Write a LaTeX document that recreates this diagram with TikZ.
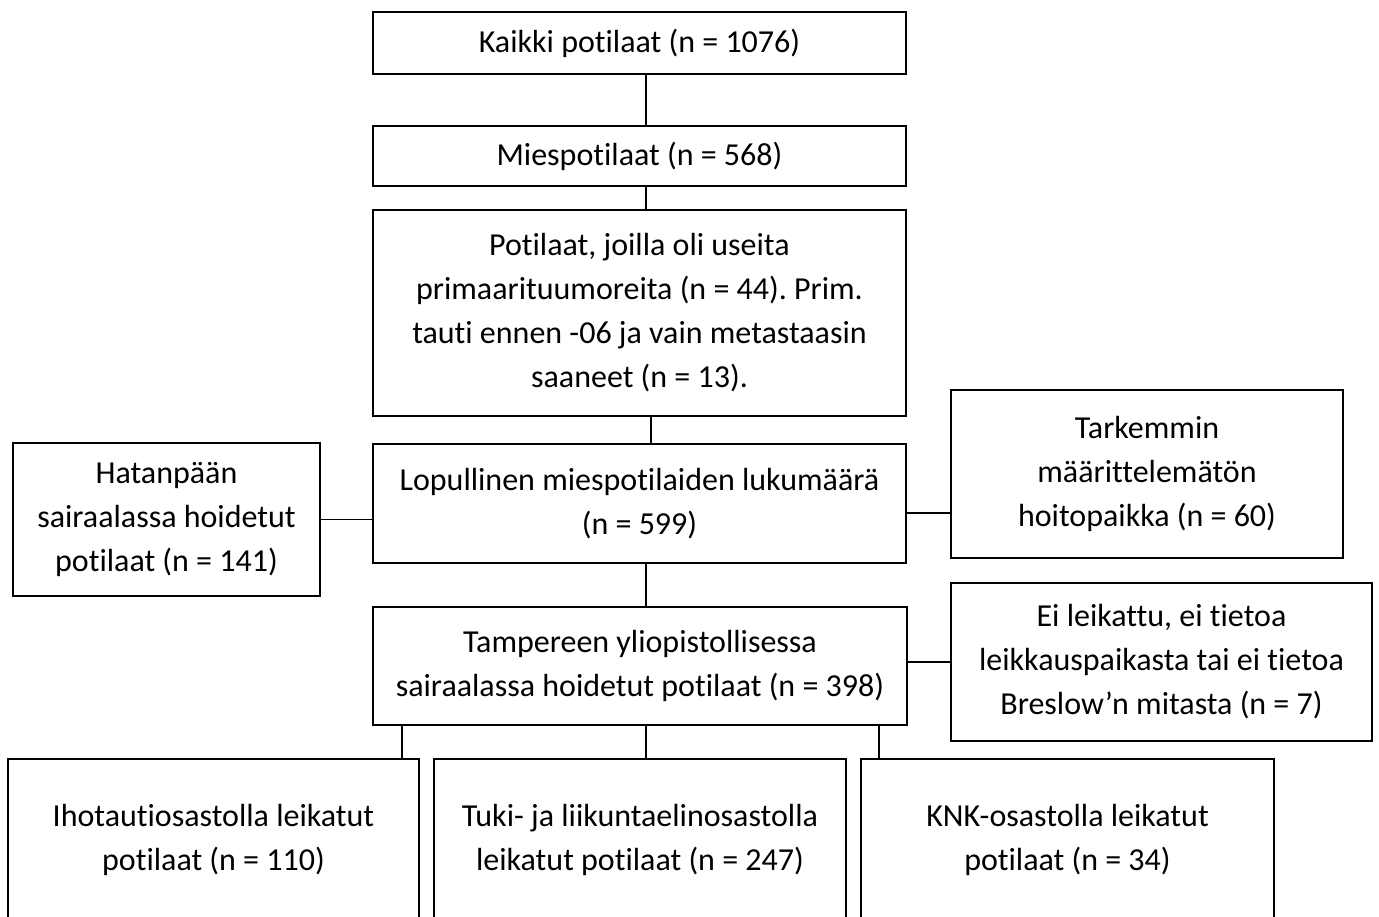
\documentclass[tikz,border=0pt]{standalone}
\usepackage{fontspec}
\setmainfont[Ligatures={NoCommon,NoRare,NoContextual}]{Carlito}
\usepackage{tikz}
\frenchspacing

\tikzset{
	laatikko/.style={draw, line width=2.4pt, inner sep=0pt, align=center,
		font=\fontsize{32}{44}\selectfont},
	viiva/.style={line width=1.8pt}
}

\begin{document}
\begin{tikzpicture}[x=1pt,y=-1pt]
		\useasboundingbox (0,0) rectangle (1379,916);
		% paasarake
		\node[laatikko, minimum width=533pt, minimum height=62pt] (kaikki) at (639.5,43) {Kaikki potilaat (n = 1076)};
		\node[laatikko, minimum width=533pt, minimum height=60pt] (mies) at (639.5,156) {Miespotilaat (n = 568)};
		\node[laatikko, minimum width=533pt, minimum height=206pt] (useita) at (639.5,313) {Potilaat, joilla oli useita\\primaarituumoreita (n = 44). Prim.\\tauti ennen -06 ja vain metastaasin\\saaneet (n = 13).};
		\node[laatikko, minimum width=533pt, minimum height=119pt] (lopullinen) at (639.5,503.5) {Lopullinen miespotilaiden lukumäärä\\(n = 599)};
		\node[laatikko, minimum width=534pt, minimum height=118pt] (tays) at (640,666) {Tampereen yliopistollisessa\\sairaalassa hoidetut potilaat (n = 398)};
		% sivulaatikot
		\node[laatikko, minimum width=307pt, minimum height=153pt] (hatanpaa) at (166.5,519.5) {Hatanpään\\sairaalassa hoidetut\\potilaat (n = 141)};
		\node[laatikko, minimum width=392pt, minimum height=168pt] (tarkemmin) at (1147,474) {Tarkemmin\\määrittelemätön\\hoitopaikka (n = 60)};
		\node[laatikko, minimum width=421pt, minimum height=158pt] (eileikattu) at (1161.5,662) {Ei leikattu, ei tietoa\\leikkauspaikasta tai ei tietoa\\Breslow’n mitasta (n = 7)};
		% alarivi
		\node[laatikko, minimum width=411pt, minimum height=162pt] (iho) at (213.5,840) {Ihotautiosastolla leikatut\\potilaat (n = 110)};
		\node[laatikko, minimum width=412pt, minimum height=162pt] (tules) at (640,840) {Tuki- ja liikuntaelinosastolla\\leikatut potilaat (n = 247)};
		\node[laatikko, minimum width=413pt, minimum height=162pt] (knk) at (1067.5,840) {KNK-osastolla leikatut\\potilaat (n = 34)};
		% yhdysviivat
		\draw[viiva] ([xshift=6.5pt]kaikki.south) -- ([xshift=6.5pt]mies.north);
		\draw[viiva] ([xshift=6.5pt]mies.south) -- ([xshift=6.5pt]useita.north);
		\draw[viiva] ([xshift=11.5pt]useita.south) -- ([xshift=11.5pt]lopullinen.north);
		\draw[viiva] ([yshift=-16pt]lopullinen.west) -- (hatanpaa.east);
		\draw[viiva] ([yshift=-9.5pt]lopullinen.east) -- ([yshift=-39pt]tarkemmin.west);
		\draw[viiva] ([xshift=6.5pt]lopullinen.south) -- ([xshift=6pt]tays.north);
		\draw[viiva] ([yshift=4pt]tays.east) -- (eileikattu.west);
		\draw[viiva] ([xshift=-238pt]tays.south) -- ([xshift=188.5pt]iho.north);
		\draw[viiva] ([xshift=6pt]tays.south) -- ([xshift=6pt]tules.north);
		\draw[viiva] ([xshift=239pt]tays.south) -- ([xshift=-188.5pt]knk.north);
		\end{tikzpicture}
\end{document}
